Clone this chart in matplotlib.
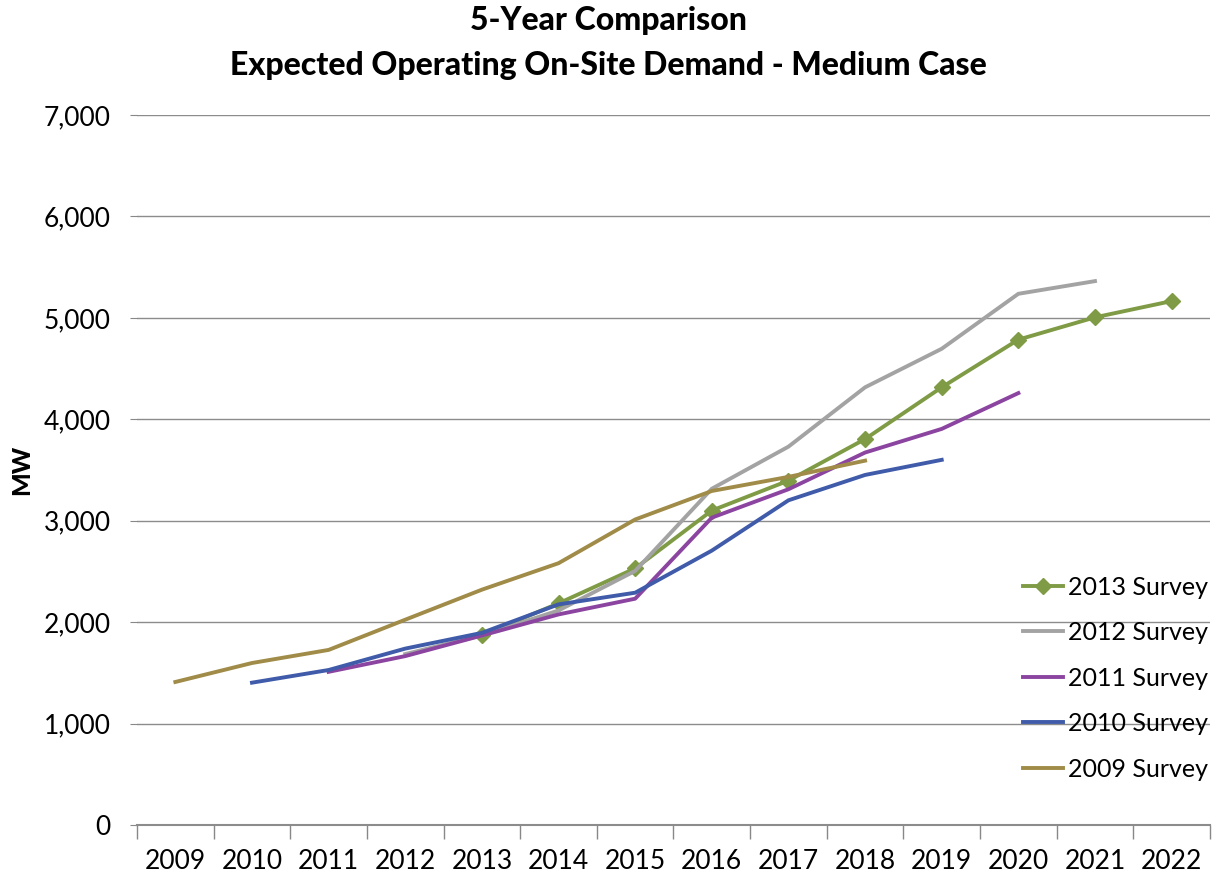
import matplotlib
matplotlib.use('Agg')
import matplotlib.pyplot as plt
import numpy as np

plt.rcParams['font.family'] = ['Lato', 'DejaVu Sans']

# categories
years = ['2009', '2010', '2011', '2012', '2013', '2014', '2015',
         '2016', '2017', '2018', '2019', '2020', '2021', '2022']

# survey series (None = no value for that year)
s2013 = [None, None, None, None, 1870, 2185, 2530, 3100, 3395, 3805, 4315, 4785, 5005, 5165]
s2012 = [None, None, None, 1685, 1870, 2115, 2505, 3315, 3730, 4315, 4695, 5237, 5362, None]
s2011 = [None, None, 1510, 1665, 1868, 2076, 2231, 3030, 3310, 3672, 3905, 4258, None, None]
s2010 = [None, 1403, 1528, 1739, 1894, 2175, 2290, 2705, 3201, 3451, 3600, None, None, None]
s2009 = [1410, 1597, 1726, 2024, 2320, 2581, 3012, 3293, 3432, 3592, None, None, None, None]

series = [
    ('2013 Survey', s2013, '#7F9B45', 'D'),
    ('2012 Survey', s2012, '#A3A3A3', None),
    ('2011 Survey', s2011, '#8B45A0', None),
    ('2010 Survey', s2010, '#3F5BA9', None),
    ('2009 Survey', s2009, '#A08C48', None),
]

fig = plt.figure(figsize=(12.17, 8.73), dpi=100)
ax = fig.add_axes([0.1126, 0.055, 0.8816, 0.8133])

x = np.arange(len(years))
for name, vals, col, mk in series:
    y = np.array([np.nan if v is None else v for v in vals], dtype=float)
    ax.plot(x, y, color=col, lw=2.8, marker=mk, markersize=8.5,
            markeredgecolor=col, label=name, solid_joinstyle='round')

ax.set_xlim(-0.5, len(years) - 0.5)
ax.set_ylim(0, 7000)
ax.set_yticks(np.arange(0, 7001, 1000))
ax.set_yticklabels(['0' if v == 0 else f'{v:,}' for v in range(0, 7001, 1000)])
ax.set_xticks(x)
ax.set_xticklabels(years)
ax.set_xticks(np.arange(-0.5, len(years), 1), minor=True)
ax.tick_params(axis='x', which='major', length=0, pad=17, labelsize=19)
ax.tick_params(axis='x', which='minor', length=10, color='#888888', width=1)
ax.tick_params(axis='y', length=5, color='#888888', labelsize=19, pad=14)

ax.grid(axis='y', color='#8c8c8c', lw=1)
ax.set_axisbelow(True)
for s in ['top', 'right', 'left']:
    ax.spines[s].set_visible(False)
ax.spines['bottom'].set_color('#8c8c8c')
ax.spines['bottom'].set_linewidth(1.5)

ax.set_ylabel('MW', fontsize=18, fontweight='black')
ax.yaxis.set_label_coords(-0.097, 0.5)

fig.text(0.5, 0.976, '5-Year Comparison', ha='center', va='center',
         fontsize=23, fontweight='black')
fig.text(0.5, 0.925, 'Expected Operating On-Site Demand - Medium Case',
         ha='center', va='center', fontsize=23, fontweight='black')

ax.legend(loc='upper left', bbox_to_anchor=(0.832, 0.352), frameon=False,
          fontsize=18, handlelength=1.6, handletextpad=0.2, labelspacing=0.9,
          bbox_transform=fig.transFigure, borderaxespad=0)

plt.savefig('out.png', dpi=100)
plt.close()
